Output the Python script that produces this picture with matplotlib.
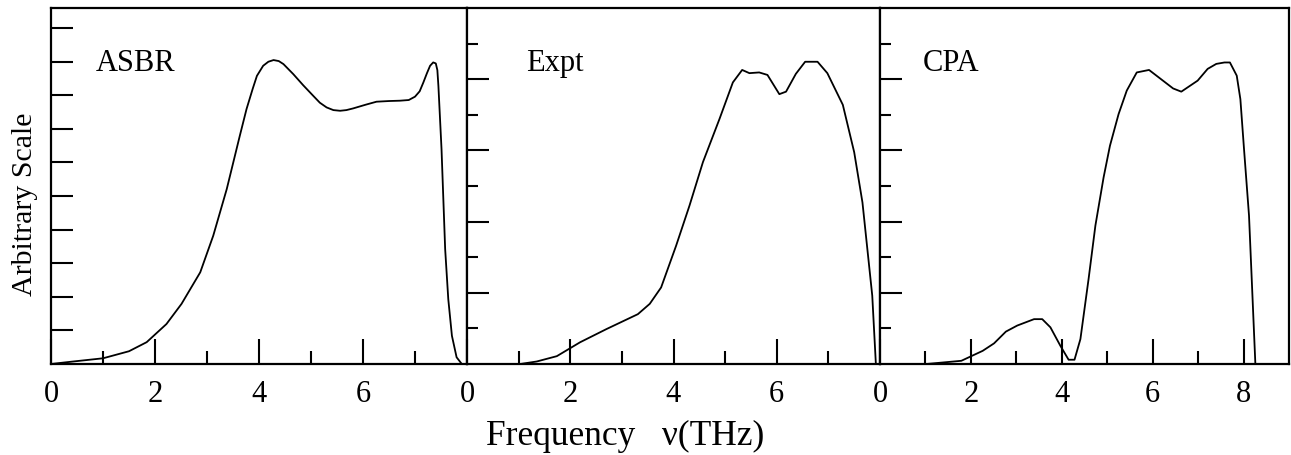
import numpy as np
import matplotlib
matplotlib.use('Agg')
import matplotlib.pyplot as plt

plt.rcParams['font.family'] = ['Liberation Serif', 'DejaVu Serif']

# ASBR (calculated)
asbr_x = [0.0, 0.4, 1.0, 1.5, 1.84, 2.22, 2.51, 2.87, 3.12, 3.38, 3.63, 3.76, 3.88,
          3.96, 4.08, 4.18, 4.28, 4.38, 4.47, 4.66, 4.85, 5.04, 5.17, 5.30, 5.43,
          5.56, 5.68, 5.81, 6.05, 6.26, 6.50, 6.71, 6.88, 7.0, 7.09, 7.16, 7.23,
          7.29, 7.35, 7.40, 7.43, 7.45, 7.51, 7.58, 7.64, 7.71, 7.80, 7.90]
asbr_y = [0.0, 0.07, 0.17, 0.38, 0.65, 1.19, 1.79, 2.73, 3.82, 5.21, 6.79, 7.59, 8.20,
          8.58, 8.88, 9.00, 9.05, 9.02, 8.93, 8.63, 8.30, 7.99, 7.78, 7.64, 7.56,
          7.54, 7.56, 7.61, 7.72, 7.81, 7.83, 7.84, 7.86, 7.96, 8.12, 8.38, 8.66,
          8.88, 8.98, 8.95, 8.75, 8.28, 6.40, 3.42, 1.93, 0.84, 0.20, 0.0]

# Experiment
expt_x = [0.0, 1.03, 1.35, 1.74, 2.19, 2.70, 3.31, 3.54, 3.76, 4.05, 4.31, 4.57,
          4.89, 5.15, 5.33, 5.47, 5.66, 5.82, 6.05, 6.18, 6.37, 6.55, 6.79, 6.98,
          7.28, 7.50, 7.66, 7.85, 7.92]
expt_y = [0.0, 0.0, 0.07, 0.22, 0.61, 0.98, 1.40, 1.69, 2.15, 3.32, 4.45, 5.67,
          6.88, 7.91, 8.26, 8.17, 8.19, 8.12, 7.58, 7.65, 8.15, 8.49, 8.49, 8.17,
          7.28, 5.95, 4.54, 1.92, 0.0]

# CPA (calculated)
cpa_x = [0.0, 1.02, 1.79, 2.26, 2.51, 2.77, 3.02, 3.39, 3.57, 3.75, 3.97, 4.15,
         4.28, 4.41, 4.59, 4.74, 4.92, 5.06, 5.25, 5.43, 5.65, 5.92, 6.45, 6.63,
         6.99, 7.21, 7.40, 7.58, 7.70, 7.85, 7.93, 8.01, 8.12, 8.23, 8.26]
cpa_y = [0.0, 0.0, 0.09, 0.37, 0.58, 0.91, 1.08, 1.26, 1.26, 1.03, 0.51, 0.12,
         0.12, 0.70, 2.39, 3.89, 5.24, 6.13, 7.02, 7.68, 8.19, 8.26, 7.74, 7.65,
         7.96, 8.29, 8.43, 8.47, 8.47, 8.10, 7.44, 6.04, 4.17, 0.89, 0.0]

names = ['ASBR', 'Expt', 'CPA']
xs = [asbr_x, expt_x, cpa_x]
ys = [asbr_y, expt_y, cpa_y]

W, H = 1291, 456
fig = plt.figure(figsize=(W / 100, H / 100), dpi=100)

edges = [51, 467, 880, 1289]
top, bottom = 9, 365
xmax = [8.0, 8.0, 9.0]
ymax = [10.6, 10.0, 10.0]
label_x = [0.108, 0.143, 0.105]

for i in range(3):
    left = edges[i] / W
    width = (edges[i + 1] - edges[i]) / W
    ax = fig.add_axes([left, 1 - bottom / H, width, (bottom - top) / H])
    ax.plot(xs[i], ys[i], color='black', lw=1.3)
    ax.set_xlim(0, xmax[i])
    ax.set_ylim(0, ymax[i])

    ax.set_xticks(np.arange(0, xmax[i], 2))
    ax.set_xticks(np.arange(1, xmax[i], 2), minor=True)
    if i == 2:
        ax.set_xticks([0, 2, 4, 6, 8])
    if i == 0:
        ax.set_yticks(np.arange(1, 11))
        ax.set_yticks([], minor=True)
    else:
        ax.set_yticks([2, 4, 6, 8])
        ax.set_yticks([1, 3, 5, 7, 9], minor=True)
    ax.set_yticklabels([])
    ax.tick_params(axis='both', which='major', direction='in', length=16,
                   width=1.5, top=False, right=False)
    ax.tick_params(axis='x', which='major', length=18, labelsize=22, pad=11)
    ax.tick_params(axis='x', which='minor', direction='in', length=9.5, width=1.5,
                   top=False)
    ax.tick_params(axis='y', which='minor', direction='in', length=8, width=1.5,
                   right=False)
    ax.set_xticklabels([str(int(t)) for t in ax.get_xticks()])
    for s in ax.spines.values():
        s.set_linewidth(1.6)
    ax.text(label_x[i], 0.827, names[i], transform=ax.transAxes,
            fontsize=22, va='baseline', ha='left')

fig.text(25 / W, 1 - 204 / H, 'Arbitrary Scale', rotation=90,
         fontsize=21.5, ha='center', va='center')
fig.text(625 / W, 1 - 445 / H, 'Frequency   \u03bd(THz)', fontsize=25.5,
         ha='center', va='baseline')

fig.savefig('out.png', dpi=100)
